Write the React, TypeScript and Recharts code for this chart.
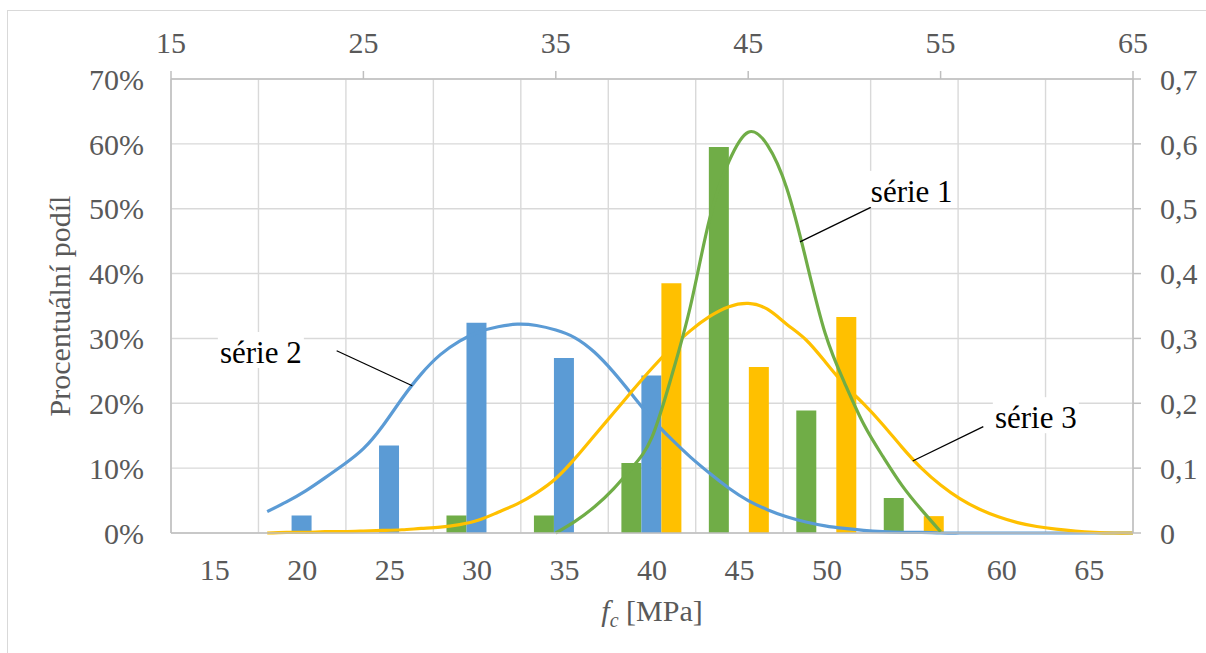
import { ComposedChart, Bar, Line, XAxis, YAxis, CartesianGrid, ReferenceLine, ReferenceDot, Label } from 'recharts'

const categories = [15, 20, 25, 30, 35, 40, 45, 50, 55, 60, 65]
const serie1Share = [null, null, null, 0.027, 0.027, 0.108, 0.595, 0.189, 0.054, null, null]
const serie2Share = [null, 0.027, 0.135, 0.324, 0.27, 0.243, null, null, null, null, null]
const serie3Share = [null, null, null, null, null, 0.385, 0.256, 0.333, 0.026, null, null]

// fitted curves (top axis = MPa, right axis = density)
const curve1X = [35, 36, 37, 38, 39, 40, 41, 42, 43, 44, 45, 46, 47, 48, 49, 50, 51, 52, 53, 54, 55]
const curve1Y = [0, 0.018, 0.04, 0.068, 0.102, 0.148, 0.24, 0.35, 0.485, 0.573, 0.618, 0.598, 0.532, 0.422, 0.308, 0.232, 0.168, 0.118, 0.073, 0.036, 0.002]

const curveX = [20, 21, 22, 23, 24, 25, 26, 27, 28, 29, 30, 31, 32, 33, 34, 35, 36, 37, 38, 39, 40, 41, 42, 43, 44, 45, 46, 47, 48, 49, 50, 51, 52, 53, 54, 55, 56, 57, 58, 59, 60, 61, 62, 63, 64, 65]
const curve2Y = [0.033, 0.048, 0.065, 0.085, 0.106, 0.13, 0.165, 0.207, 0.245, 0.275, 0.296, 0.31, 0.318, 0.322, 0.32, 0.313, 0.301, 0.279, 0.248, 0.212, 0.176, 0.145, 0.117, 0.092, 0.069, 0.05, 0.036, 0.025, 0.017, 0.011, 0.007, 0.004, 0.002, 0.001, 0.001, 0, 0, 0, 0, 0, 0, 0, 0, 0, 0, 0]
const curve3Y = [0, 0.001, 0.001, 0.002, 0.002, 0.003, 0.004, 0.005, 0.007, 0.009, 0.013, 0.02, 0.032, 0.045, 0.062, 0.084, 0.115, 0.15, 0.185, 0.22, 0.254, 0.285, 0.312, 0.334, 0.349, 0.354, 0.345, 0.322, 0.298, 0.264, 0.229, 0.199, 0.167, 0.132, 0.1, 0.074, 0.053, 0.037, 0.025, 0.016, 0.01, 0.006, 0.003, 0.001, 0, 0]

const topTicks = [15, 25, 35, 45, 55, 65]
const yTicks = [0, 0.1, 0.2, 0.3, 0.4, 0.5, 0.6, 0.7]

const barData = categories.map((c, i) => ({ cat: c, s1: serie1Share[i], s2: serie2Share[i], s3: serie3Share[i] }))
const line1 = curve1X.map((x, i) => ({ x, y: curve1Y[i] }))
const line2 = curveX.map((x, i) => ({ x, y: curve2Y[i] }))
const line3 = curveX.map((x, i) => ({ x, y: curve3Y[i] }))

const GREEN = '#70ad47'
const BLUE = '#5b9bd5'
const YELLOW = '#ffc000'
const AXIS = '#bfbfbf'
const GRID = '#d9d9d9'
const TEXT = '#595959'
const FONT = '"Liberation Serif", "Times New Roman", serif'
const FS = 30

const pct = (v: number) => `${Math.round(v * 100)}%`
const dec = (v: number) => (v === 0 ? '0' : v.toFixed(1).replace('.', ','))

function makeTick(anchor: string, dy: string, fmt: (v: number) => string = (v) => String(v)) {
  return (p: any) => (
    <text x={p.x} y={p.y} dy={dy} textAnchor={anchor} fontSize={FS} fontFamily={FONT} fill={TEXT}>
      {fmt(p.payload.value)}
    </text>
  )
}

function seriesLabel(text: string) {
  return (p: any) => (
    <g>
      <rect x={p.cx - 43} y={p.cy - 21} width={86} height={36} fill="#fff" />
      <text x={p.cx} y={p.cy + 10} textAnchor="middle" fontSize={31} fontFamily={FONT} fill="#000">
        {text}
      </text>
    </g>
  )
}

export default function App() {
  return (
    <div style={{ position: 'absolute', left: 0, top: 0, width: 1206, height: 653, overflow: 'hidden', background: '#fff', fontFamily: FONT }}>
      <div style={{ position: 'absolute', left: 7, top: 10, width: 1220, height: 680, border: '1.5px solid #d9d9d9' }} />
      <div style={{ position: 'absolute', left: 0, top: 0 }}>
        <ComposedChart
          width={1206}
          height={653}
          data={barData}
          margin={{ top: 0, right: 0, bottom: 0, left: 0 }}
          barCategoryGap="15%"
          barGap={0}
        >
          <CartesianGrid
            xAxisId="cat"
            yAxisId="pct"
            stroke={GRID}
            strokeWidth={1.4}
            verticalCoordinatesGenerator={({ offset }: any) =>
              categories.concat([0]).map((_, i) => offset.left + (i * offset.width) / categories.length)
            }
          />
          <XAxis
            xAxisId="cat"
            dataKey="cat"
            height={120}
            interval={0}
            tickLine={false}
            tickSize={0}
            tickMargin={26}
            axisLine={{ stroke: AXIS, strokeWidth: 1.5 }}
            tick={makeTick('middle', '0.71em')}
          >
            <Label
              content={({ viewBox }: any) => (
                <text
                  x={viewBox.x + viewBox.width / 2}
                  y={viewBox.y + 88}
                  textAnchor="middle"
                  fontSize={FS}
                  fontFamily={FONT}
                  fill={TEXT}
                >
                  <tspan fontStyle="italic">f</tspan>
                  <tspan fontStyle="italic" fontSize={20} dy={6}>c</tspan>
                  <tspan dy={-6}> [MPa]</tspan>
                </text>
              )}
            />
          </XAxis>
          <XAxis
            xAxisId="num"
            dataKey="x"
            type="number"
            orientation="top"
            domain={[15, 65]}
            ticks={topTicks}
            height={79}
            tickSize={8}
            tickMargin={18}
            tickLine={{ stroke: AXIS, strokeWidth: 1.5 }}
            axisLine={{ stroke: AXIS, strokeWidth: 1.5 }}
            tick={makeTick('middle', '0')}
            allowDataOverflow
          />
          <YAxis
            yAxisId="pct"
            width={171}
            domain={[0, 0.7]}
            ticks={yTicks}
            tickLine={false}
            tickSize={0}
            tickMargin={27}
            axisLine={{ stroke: AXIS, strokeWidth: 1.5 }}
            tick={makeTick('end', '0.355em', pct)}
          >
            <Label
              content={({ viewBox }: any) => (
                <text
                  x={59}
                  y={viewBox.y + viewBox.height / 2}
                  transform={`rotate(-90 59 ${viewBox.y + viewBox.height / 2})`}
                  textAnchor="middle"
                  dominantBaseline="central"
                  fontSize={FS}
                  fontFamily={FONT}
                  fill={TEXT}
                >
                  Procentuální podíl
                </text>
              )}
            />
          </YAxis>
          <YAxis
            yAxisId="r"
            orientation="right"
            width={73}
            domain={[0, 0.7]}
            ticks={yTicks}
            tickSize={8}
            tickMargin={19}
            tickLine={{ stroke: AXIS, strokeWidth: 1.5 }}
            axisLine={{ stroke: AXIS, strokeWidth: 1.5 }}
            tick={makeTick('start', '0.355em', dec)}
          />
          <Bar xAxisId="cat" yAxisId="pct" dataKey="s1" fill={GREEN} isAnimationActive={false} />
          <Bar xAxisId="cat" yAxisId="pct" dataKey="s2" fill={BLUE} isAnimationActive={false} />
          <Bar xAxisId="cat" yAxisId="pct" dataKey="s3" fill={YELLOW} isAnimationActive={false} />
          <Line xAxisId="num" yAxisId="r" data={line2} dataKey="y" type="natural" stroke={BLUE} strokeWidth={3.2} dot={false} isAnimationActive={false} />
          <Line xAxisId="num" yAxisId="r" data={line3} dataKey="y" type="natural" stroke={YELLOW} strokeWidth={3.2} dot={false} isAnimationActive={false} />
          <Line xAxisId="num" yAxisId="r" data={line1} dataKey="y" type="natural" stroke={GREEN} strokeWidth={3.2} dot={false} isAnimationActive={false} />
          <ReferenceLine xAxisId="num" yAxisId="r" segment={[{ x: 51.37, y: 0.502 }, { x: 47.69, y: 0.449 }]} stroke="#000" strokeWidth={1.3} />
          <ReferenceLine xAxisId="num" yAxisId="r" segment={[{ x: 23.61, y: 0.281 }, { x: 27.54, y: 0.227 }]} stroke="#000" strokeWidth={1.3} />
          <ReferenceLine xAxisId="num" yAxisId="r" segment={[{ x: 57.22, y: 0.164 }, { x: 53.55, y: 0.111 }]} stroke="#000" strokeWidth={1.3} />
          <ReferenceDot xAxisId="num" yAxisId="r" x={53.5} y={0.526} r={0} shape={seriesLabel('série 1')} />
          <ReferenceDot xAxisId="num" yAxisId="r" x={19.67} y={0.2775} r={0} shape={seriesLabel('série 2')} />
          <ReferenceDot xAxisId="num" yAxisId="r" x={59.95} y={0.177} r={0} shape={seriesLabel('série 3')} />
        </ComposedChart>
      </div>
    </div>
  )
}
